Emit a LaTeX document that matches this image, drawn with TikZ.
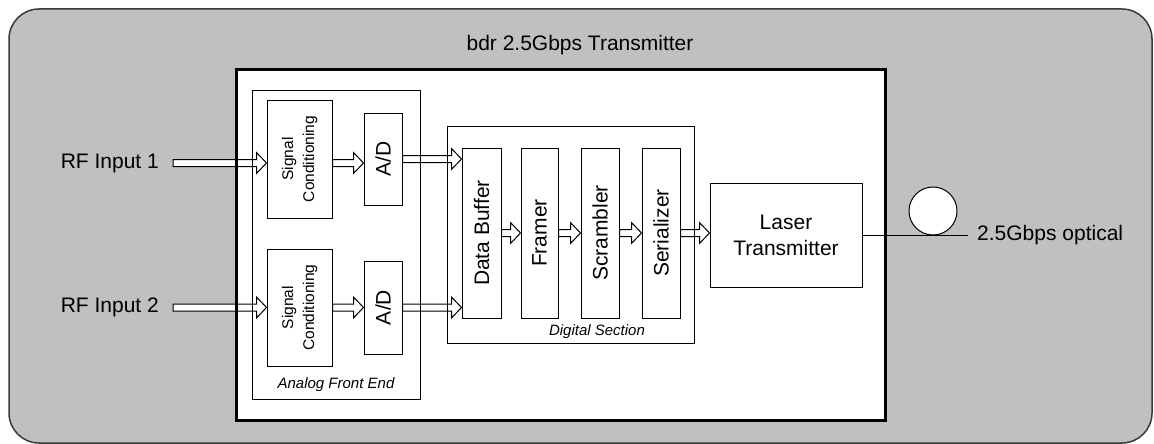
\documentclass[tikz,border=0pt]{standalone}
\usepackage{fontspec}
\setmainfont{Liberation Sans}
\usetikzlibrary{calc, backgrounds}

\definecolor{chassisgray}{HTML}{C0C0C0}
\definecolor{rimgray}{HTML}{3A3A3A}

% hollow block arrow between two points (horizontal, y taken from #1)
\newcommand{\fatarrow}[2]{%
	\draw[fatarrow] let \p1=(#1), \p2=(#2) in
	(\x1,\y1+3.5pt) -- (\x2-10pt,\y1+3.5pt) -- (\x2-10pt,\y1+10.5pt) -- (\x2,\y1)
	-- (\x2-10pt,\y1-10.5pt) -- (\x2-10pt,\y1-3.5pt) -- (\x1,\y1-3.5pt) -- cycle;}

\begin{document}
\begin{tikzpicture}[
	x=1pt, y=-1pt,
	font=\fontsize{21}{26}\selectfont,
	% Styles
	chassis/.style={draw=rimgray, line width=1.5pt, fill=chassisgray, rounded corners=30pt, inner sep=0pt},
	mainbox/.style={draw, line width=3pt, inner sep=0pt},
	group/.style={draw, line width=1pt, inner sep=0pt},
	block/.style={draw, fill=white, line width=1pt, inner sep=0pt, align=center},
	fatarrow/.style={draw, fill=white, line width=1pt},
	coil/.style={circle, draw, fill=white, line width=1pt, minimum size=48pt, inner sep=0pt},
	small/.style={font=\fontsize{15.5}{21}\selectfont},
	caption/.style={font=\fontsize{15}{18}\selectfont\itshape, inner sep=0pt}
	]
	\useasboundingbox (0,0) rectangle (1154,444);
	
	% --- 1. Frames ---
	\node[mainbox, minimum width=649pt, minimum height=350pt] (main) at (560.5,245) {};
	\node[inner sep=0pt] (title) at (580,45) {bdr 2.5Gbps Transmitter};
	
	\node[group, minimum width=168pt, minimum height=309pt] (analog) at (336,244.5) {};
	\node[caption] (analogcap) at (336,385) {Analog Front End};
	
	\node[group, minimum width=247pt, minimum height=217pt] (digital) at (570.5,234.5) {};
	\node[caption] (digitalcap) at (597,332) {Digital Section};
	
	% --- 2. Analog front end ---
	\node[block, small, minimum width=65pt, minimum height=118pt] (sc1) at (299.5,159)
		{\rotatebox{90}{\begin{tabular}{@{}c@{}}Signal\\Conditioning\end{tabular}}};
	\node[block, minimum width=38pt, minimum height=92pt] (ad1) at (383,159) {\rotatebox{90}{A/D}};
	\node[block, small, minimum width=65pt, minimum height=117pt] (sc2) at (299.5,307.5)
		{\rotatebox{90}{\begin{tabular}{@{}c@{}}Signal\\Conditioning\end{tabular}}};
	\node[block, minimum width=38pt, minimum height=93pt] (ad2) at (383,307.5) {\rotatebox{90}{A/D}};
	
	% inputs
	\node[anchor=east, inner sep=0pt] (rf1) at (159,163) {RF Input 1};
	\node[anchor=east, inner sep=0pt] (rf2) at (159,307.5) {RF Input 2};
	
	% --- 3. Digital section ---
	\node[block, minimum width=39pt, minimum height=170pt] (db) at (481.5,233) {\rotatebox{90}{Data Buffer}};
	\node[block, minimum width=37pt, minimum height=170pt] (fr) at (539.5,233) {\rotatebox{90}{Framer}};
	\node[block, minimum width=38pt, minimum height=170pt] (scr) at (600,233) {\rotatebox{90}{Scrambler}};
	\node[block, minimum width=38pt, minimum height=170pt] (ser) at (661,233) {\rotatebox{90}{Serializer}};
	
	% --- 4. Laser and fibre ---
	\node[block, minimum width=152pt, minimum height=104pt] (laser) at (786,235) {Laser\\Transmitter};
	\node[anchor=west, inner sep=0pt] (optical) at (977,235) {2.5Gbps optical};
	\draw[line width=1pt] (laser.east) -- ($(optical.west)+(-9pt,0)$);
	\node[coil] (loop) at (933,211) {};
	
	% --- Background: chassis, white fill and block arrows ---
	\begin{scope}[on background layer]
		\node[chassis, minimum width=1143pt, minimum height=434pt] (box) at (580.5,226) {};
		\fill[white] (main.south west) rectangle (main.north east);
		
		\fatarrow{$(rf1.east)+(14pt,0)$}{sc1.west}
		\fatarrow{sc1.east |- rf1.east}{ad1.west}
		\fatarrow{$(rf2.east)+(14pt,0)$}{sc2.west}
		\fatarrow{sc2.east |- rf2.east}{ad2.west}
		\fatarrow{ad1.east}{db.west}
		\fatarrow{ad2.east}{db.west}
		\fatarrow{db.east}{fr.west}
		\fatarrow{fr.east}{scr.west}
		\fatarrow{scr.east}{ser.west}
		\fatarrow{ser.east}{laser.west}
	\end{scope}
	
\end{tikzpicture}
\end{document}
